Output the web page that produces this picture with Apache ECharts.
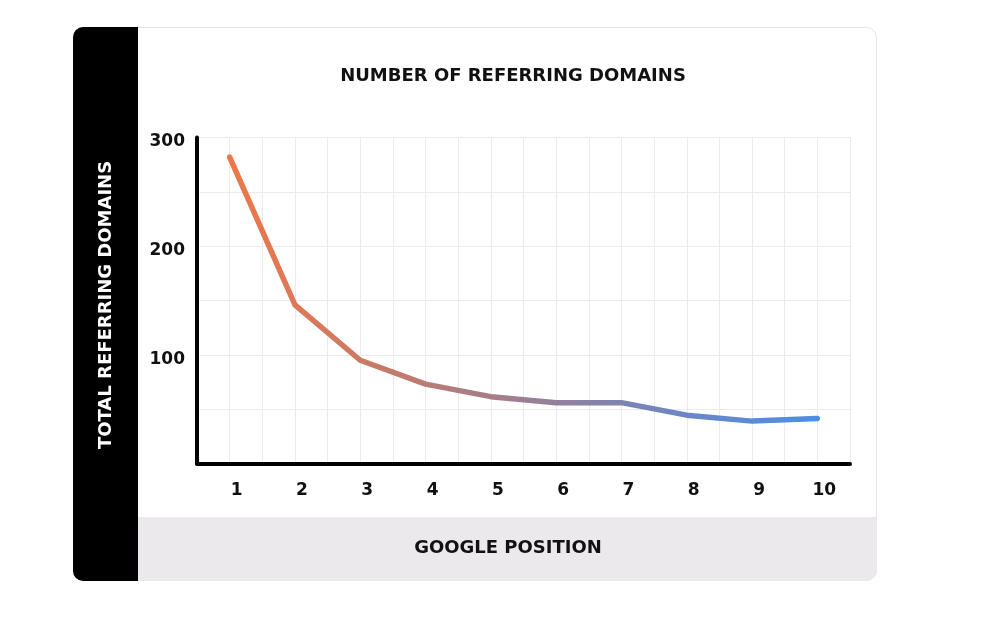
<!DOCTYPE html>
<html>
<head>
<meta charset="utf-8">
<script src="https://cdn.jsdelivr.net/npm/echarts@6/dist/echarts.min.js"></script>
<style>
html,body{margin:0;padding:0;background:#fff;}
#chart{width:1000px;height:618px;}
</style>
</head>
<body>
<div id="chart"></div>
<script>
// Data
const positions = [1, 2, 3, 4, 5, 6, 7, 8, 9, 10];
const referringDomains = [282, 146, 95, 73, 61.5, 56, 56, 44.5, 39, 41.5];
const yTicks = [0, 100, 200, 300];
const titleText = 'NUMBER OF REFERRING DOMAINS';
const xAxisTitle = 'GOOGLE POSITION';
const yAxisTitle = 'TOTAL REFERRING DOMAINS';

const FONT = '"DejaVu Sans", Lato, sans-serif';
const chart = echarts.init(document.getElementById('chart'), null, {renderer: 'canvas'});

const option = {
  animation: false,
  backgroundColor: '#ffffff',
  graphic: [
    {type: 'rect', z: -10, shape: {x: 73.5, y: 27.5, width: 803, height: 553, r: 10},
      style: {fill: '#ffffff', stroke: '#e6e4e8', lineWidth: 1}},
    {type: 'rect', z: -9, shape: {x: 138, y: 517, width: 738.5, height: 63.5, r: [0, 0, 9, 0]},
      style: {fill: '#ebe9ec'}},
    {type: 'rect', z: -8, shape: {x: 73, y: 27, width: 65, height: 554, r: [10, 0, 0, 10]},
      style: {fill: '#000000'}},
    {type: 'text', z: 10, x: 508, y: 548,
      style: {text: xAxisTitle, align: 'center', verticalAlign: 'middle',
      font: 'bold 18px ' + FONT, fill: '#111111'}},
    {type: 'text', z: 10, x: 106, y: 305, rotation: Math.PI / 2,
      style: {text: yAxisTitle, align: 'center', verticalAlign: 'middle',
      font: 'bold 18px ' + FONT, fill: '#ffffff'}}
  ],
  title: {
    text: titleText,
    left: 508, top: 62, textAlign: 'center',
    textStyle: {fontFamily: FONT, fontWeight: 'bold', fontSize: 18, color: '#111111'}
  },
  grid: {left: 197, right: 150, top: 137.5, bottom: 154.5, containLabel: false},
  xAxis: {
    type: 'value', min: 0.5, max: 10.5, interval: 0.5,
    axisLine: {show: true, onZero: false, lineStyle: {color: '#000', width: 4}},
    axisTick: {show: false},
    splitLine: {show: true, lineStyle: {color: '#ebeaee', width: 1}},
    axisLabel: {
      margin: 19, padding: [0, 0, 0, 14],
      fontFamily: FONT, fontWeight: 'bold', fontSize: 17, color: '#111',
      formatter: function (v) { return Number.isInteger(v) && positions.indexOf(v) >= 0 ? String(v) : ''; },
      showMinLabel: true, showMaxLabel: true
    }
  },
  yAxis: {
    type: 'value', min: 0, max: 300, interval: 50,
    axisLine: {show: true, lineStyle: {color: '#000', width: 4}},
    axisTick: {show: false},
    splitLine: {show: true, lineStyle: {color: '#ebeaee', width: 1}},
    axisLabel: {
      margin: 12, verticalAlign: 'top', lineHeight: 9,
      fontFamily: FONT, fontWeight: 'bold', fontSize: 17, color: '#111',
      formatter: function (v) { return (v !== 0 && yTicks.indexOf(v) >= 0) ? String(v) : ''; }
    }
  },
  series: [{
    type: 'line',
    data: positions.map((p, i) => [p, referringDomains[i]]),
    showSymbol: false,
    symbol: 'none',
    lineStyle: {
      width: 5.5, cap: 'round', join: 'round',
      color: new echarts.graphic.LinearGradient(0, 0, 1, 0, [
        {offset: 0, color: '#ee774a'},
        {offset: 0.25, color: '#c97a66'},
        {offset: 0.5, color: '#9c7f92'},
        {offset: 0.75, color: '#6f86c2'},
        {offset: 1, color: '#4a8fe6'}
      ])
    }
  }]
};
chart.setOption(option);
</script>
</body>
</html>
